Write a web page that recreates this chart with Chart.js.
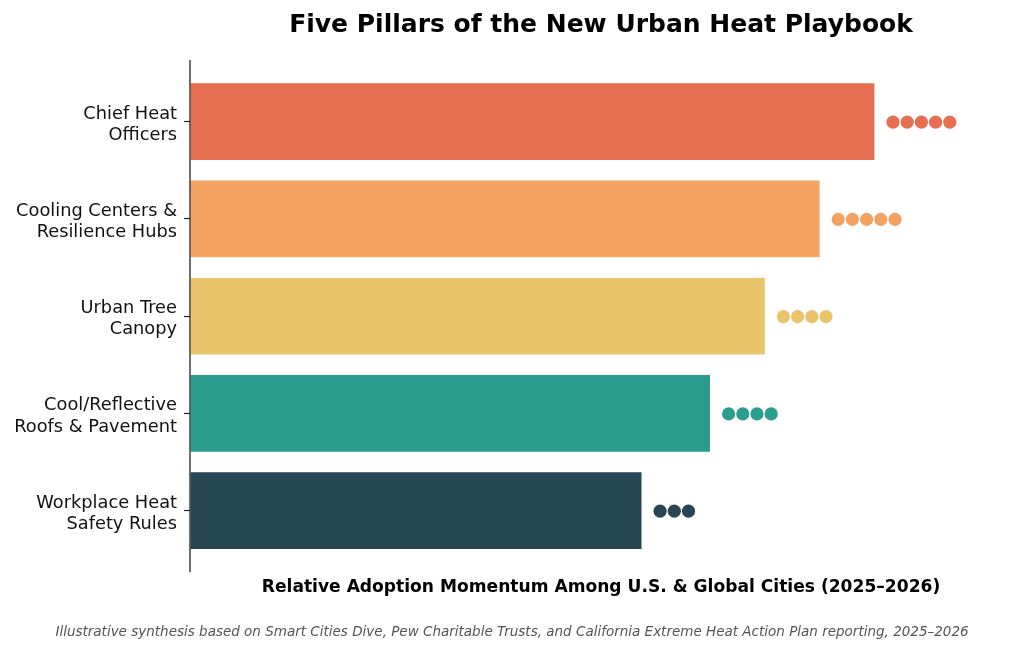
<!DOCTYPE html>
<html>
<head>
<meta charset="utf-8">
<script src="https://cdn.jsdelivr.net/npm/chart.js@4"></script>
<style>
  html, body { margin: 0; padding: 0; background: #fff; }
  #wrap { width: 1024px; height: 651px; }
</style>
</head>
<body>
<div id="wrap"><canvas id="pillarChart"></canvas></div>
<script>
var pillars = [
  ['Chief Heat', 'Officers'],
  ['Cooling Centers &', 'Resilience Hubs'],
  ['Urban Tree', 'Canopy'],
  ['Cool/Reflective', 'Roofs & Pavement'],
  ['Workplace Heat', 'Safety Rules']
]
var momentum = [100, 92, 84, 76, 66]
var dotScores = [5, 5, 4, 4, 3]
var barColors = ['#E76F51', '#F4A261', '#E9C46A', '#2A9D8F', '#264653']

var FONT = "'DejaVu Sans', sans-serif"

// left spine runs a bit past the bars, like the original
var spinePlugin = {
  id: 'spine',
  afterDraw: function (chart) {
    var ctx = chart.ctx
    var x = chart.chartArea.left
    ctx.save()
    ctx.strokeStyle = '#222'
    ctx.lineWidth = 1.3
    ctx.beginPath()
    ctx.moveTo(x, chart.chartArea.top - 13)
    ctx.lineTo(x, chart.chartArea.bottom + 13)
    ctx.stroke()
    ctx.restore()
  }
}

// score dots drawn after the end of each bar
var dotsPlugin = {
  id: 'scoreDots',
  afterDatasetsDraw: function (chart) {
    var ctx = chart.ctx
    var meta = chart.getDatasetMeta(0)
    ctx.save()
    meta.data.forEach(function (bar, i) {
      ctx.fillStyle = barColors[i]
      for (var k = 0; k < dotScores[i]; k++) {
        ctx.beginPath()
        ctx.arc(bar.x + 18 + k * 14.2, bar.y + 0.5, 6.6, 0, Math.PI * 2)
        ctx.fill()
      }
    })
    ctx.restore()
  }
}

var ctx = document.getElementById('pillarChart').getContext('2d')
var chart = new Chart(ctx, {
  type: 'bar',
  data: {
    labels: pillars,
    datasets: [
      {
        label: 'Adoption momentum',
        data: momentum,
        backgroundColor: barColors,
        borderColor: '#ffffff',
        borderWidth: 0.6,
        borderSkipped: false,
        categoryPercentage: 1,
        barPercentage: 0.8
      }
    ]
  },
  options: {
    indexAxis: 'y',
    responsive: true,
    maintainAspectRatio: false,
    animation: false,
    layout: {
      padding: { top: 10, right: 12, bottom: 0, left: 12 }
    },
    scales: {
      x: {
        min: 0,
        max: 120,
        grid: { display: false },
        border: { display: false },
        ticks: { display: false },
        title: {
          display: true,
          text: 'Relative Adoption Momentum Among U.S. & Global Cities (2025–2026)',
          color: '#000',
          font: { family: FONT, size: 17.1, weight: 'bold' },
          padding: { top: 10, bottom: 0 }
        }
      },
      y: {
        afterFit: function (scale) { scale.width = 178 },
        border: { display: false },
        grid: {
          offset: false,
          drawOnChartArea: false,
          drawTicks: true,
          tickLength: 6,
          tickColor: '#222',
          tickWidth: 1.2
        },
        ticks: {
          color: '#111',
          padding: 7,
          labelOffset: 3,
          font: { family: FONT, size: 17.8, lineHeight: 1.2 }
        }
      }
    },
    plugins: {
      legend: { display: false },
      tooltip: { enabled: false },
      title: {
        display: true,
        fullSize: false,
        text: 'Five Pillars of the New Urban Heat Playbook',
        color: '#000',
        font: { family: FONT, size: 25, weight: 'bold' },
        padding: { top: 0, bottom: 33 }
      },
      subtitle: {
        display: true,
        position: 'bottom',
        text: 'Illustrative synthesis based on Smart Cities Dive, Pew Charitable Trusts, and California Extreme Heat Action Plan reporting, 2025–2026',
        color: '#555',
        font: { family: FONT, size: 13.5, style: 'italic' },
        padding: { top: 27, bottom: 10 }
      }
    }
  },
  plugins: [spinePlugin, dotsPlugin]
})
</script>
</body>
</html>
